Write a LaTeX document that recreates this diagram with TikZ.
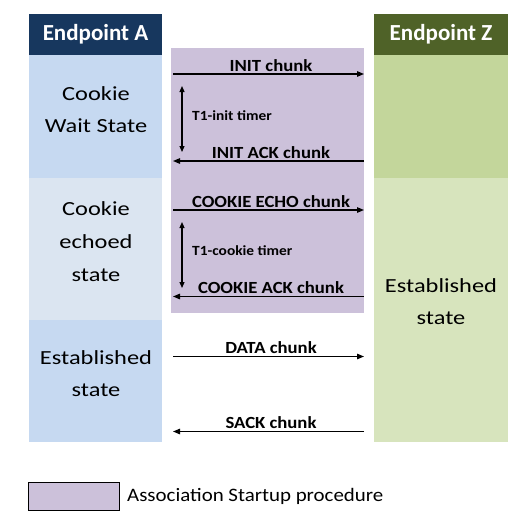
\documentclass[tikz,border=0pt]{standalone}
\usepackage{fontspec}
\setmainfont{Carlito}
\newfontfamily\statefont[FakeStretch=1.22]{Carlito}
\newfontfamily\chunkfont[FakeStretch=1.1]{Carlito}
\usepackage{tikz}
\usetikzlibrary{
  arrows.meta,
  positioning
}

\definecolor{hdrblue}{RGB}{23,55,94}
\definecolor{hdrgreen}{RGB}{79,98,40}
\definecolor{bandblue}{RGB}{198,217,241}
\definecolor{bandpale}{RGB}{219,229,241}
\definecolor{bandgreen}{RGB}{195,214,155}
\definecolor{bandlight}{RGB}{215,228,189}
\definecolor{startup}{RGB}{204,193,218}

\begin{document}
\begin{tikzpicture}[
  x=1pt, y=-1pt,
  band/.style={
    rectangle,
    fill=#1,
    anchor=north west,
    inner sep=0pt,
    outer sep=0pt,
  },
  band/.default=bandblue,
  header/.style={
    band=#1,
    minimum height=41pt,
    text=white,
    font=\fontsize{23}{27}\selectfont\bfseries,
  },
  statetext/.style={
    align=center,
    inner sep=0pt,
    font=\statefont\fontsize{20}{32.7}\selectfont,
  },
  msg/.style={-{Triangle[length=7pt,width=5.5pt]}, line width=1.2pt, black},
  timer/.style={{Triangle[length=6pt,width=5pt]}-{Triangle[length=6pt,width=5pt]}, line width=1.2pt, black},
  chunk/.style={
    anchor=south,
    inner sep=0pt,
    outer ysep=2.7pt,
    xshift=2.5pt,
    font=\chunkfont\fontsize{17}{20}\selectfont\bfseries,
  },
  timerlabel/.style={
    anchor=base west,
    inner sep=0pt,
    font=\chunkfont\fontsize{14}{16}\selectfont\bfseries,
  },
]
\useasboundingbox (0,0) rectangle (532,523);

% ── Association startup background ──
\node[band=startup, minimum width=193pt, minimum height=265pt] (startup) at (171,48) {};

% ── Column A: Endpoint A ──
\node[header=hdrblue, minimum width=133pt] (hdrA) at (29,14) {Endpoint A};
\node[band=bandblue, minimum width=133pt, minimum height=123pt] (aWait) at (29,55) {};
\node[band=bandpale, minimum width=133pt, minimum height=142pt] (aEcho) at (29,178) {};
\node[band=bandblue, minimum width=133pt, minimum height=122pt] (aEst) at (29,320) {};

\node[statetext] (aWaitTxt) at (96,109.5) {Cookie\\Wait State};
\node[statetext] (aEchoTxt) at (96,241.5) {Cookie\\echoed\\state};
\node[statetext] (aEstTxt) at (96,373.5) {Established\\state};

% ── Column Z: Endpoint Z ──
\node[header=hdrgreen, minimum width=134pt] (hdrZ) at (374,14) {Endpoint Z};
\node[band=bandgreen, minimum width=134pt, minimum height=123pt] (zWait) at (374,55) {};
\node[band=bandlight, minimum width=134pt, minimum height=264pt] (zEst) at (374,178) {};

\node[statetext] (zEstTxt) at (441,301.5) {Established\\state};

% ── Arrow ends ──
\coordinate (initA) at (173,74);
\coordinate (initZ) at (364,74);
\coordinate (initackA) at (173,161);
\coordinate (initackZ) at (364,161);
\coordinate (echoA) at (173,210);
\coordinate (echoZ) at (364,210);
\coordinate (ckackA) at (173,296.5);
\coordinate (ckackZ) at (364,296.5);
\coordinate (dataA) at (173,356.5);
\coordinate (dataZ) at (364,356.5);
\coordinate (sackA) at (173,431.5);
\coordinate (sackZ) at (364,431.5);

% ── Chunks ──
\draw[msg] (initA) -- node[chunk] (initLbl) {INIT chunk} (initZ);
\draw[msg] (initackZ) -- node[chunk] (initackLbl) {INIT ACK chunk} (initackA);
\draw[msg] (echoA) -- node[chunk] (echoLbl) {COOKIE ECHO chunk} (echoZ);
\draw[msg] (ckackZ) -- node[chunk] (ckackLbl) {COOKIE ACK chunk} (ckackA);
\draw[msg] (dataA) -- node[chunk] (dataLbl) {DATA chunk} (dataZ);
\draw[msg] (sackZ) -- node[chunk] (sackLbl) {SACK chunk} (sackA);

% ── Timers ──
\coordinate (initTop) at (182,86);
\coordinate (initBot) at (182,152);
\coordinate (cookieTop) at (182,222);
\coordinate (cookieBot) at (182,288);

\draw[timer] (initTop) -- (initBot);
\node[timerlabel] (initTimer) at (192,120) {T1-init timer};
\draw[timer] (cookieTop) -- (cookieBot);
\node[timerlabel] (cookieTimer) at (192,255) {T1-cookie timer};

% ── Legend ──
\node[band=startup, draw=black, line width=1pt, minimum width=91pt, minimum height=28pt] (legendbox) at (28,482) {};
\node[right=8pt of legendbox, inner sep=0pt, font=\chunkfont\fontsize{19}{22}\selectfont] (legendtxt) {Association Startup procedure};

\end{tikzpicture}
\end{document}
